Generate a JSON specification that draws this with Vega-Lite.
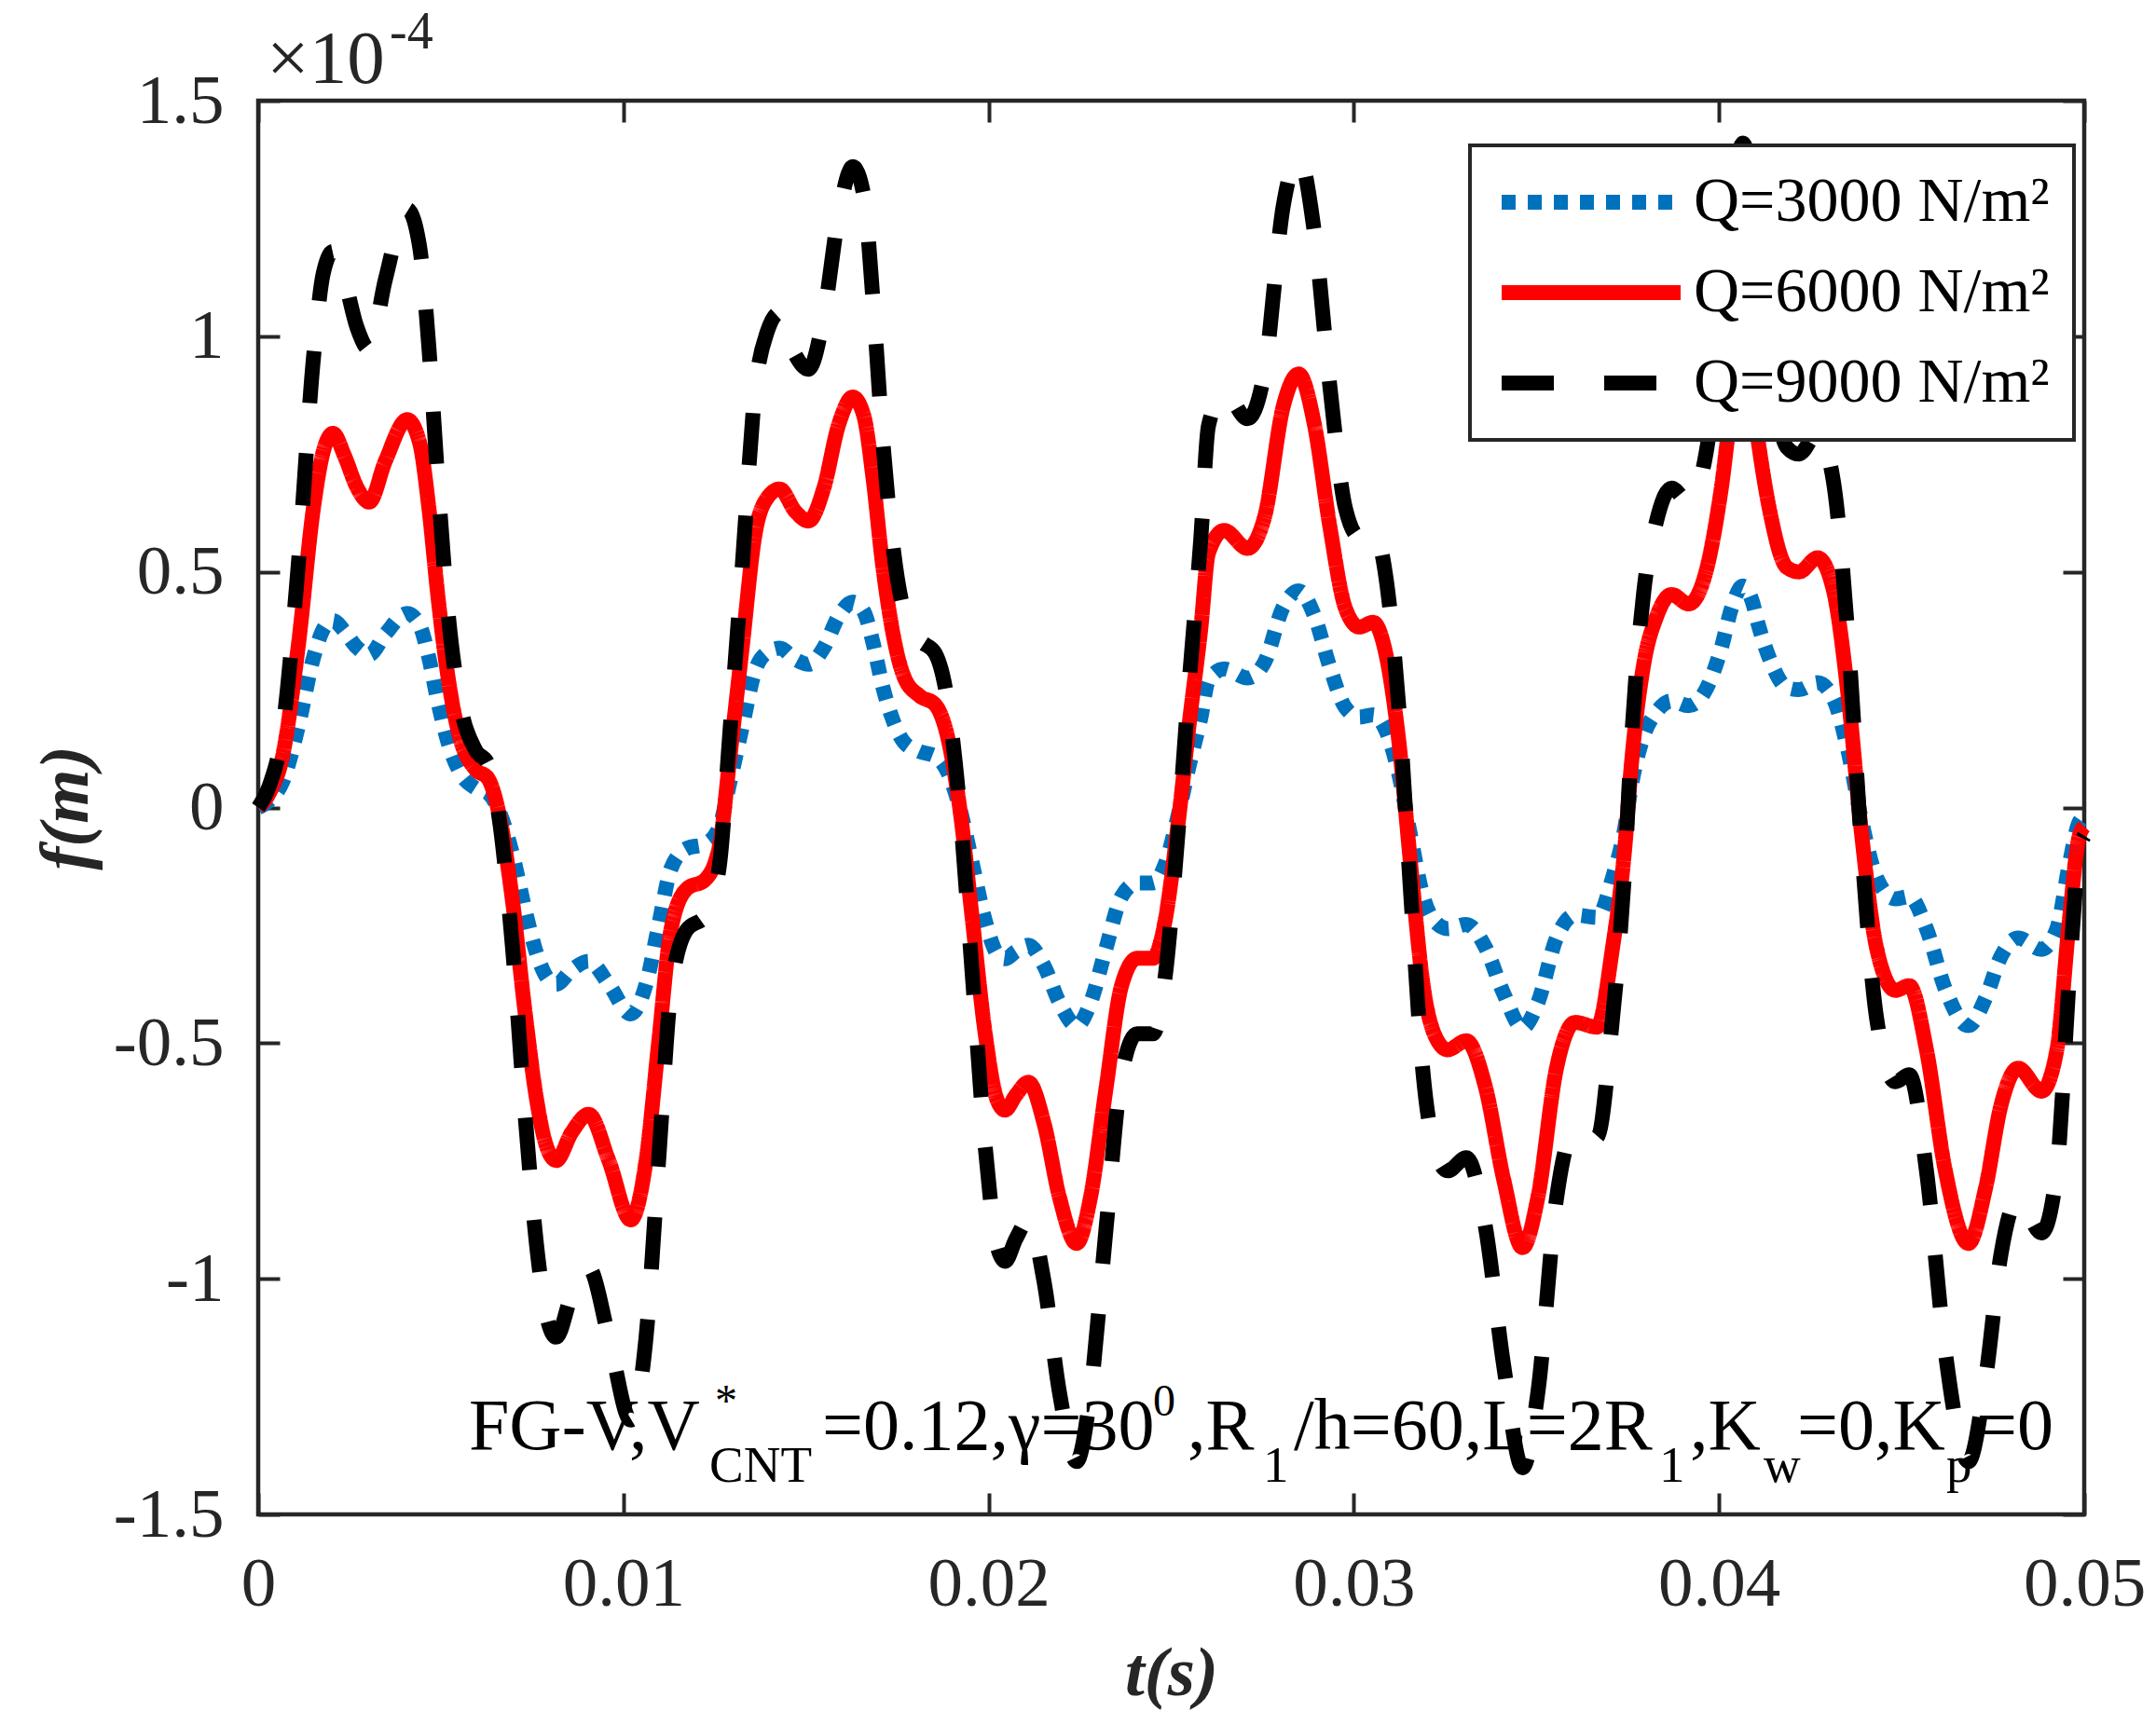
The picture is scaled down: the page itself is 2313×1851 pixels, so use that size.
{
  "$schema": "https://vega.github.io/schema/vega-lite/v6.json",
  "width": 1959,
  "height": 1517,
  "autosize": "none",
  "padding": {"left": 277, "top": 108, "right": 77, "bottom": 226},
  "background": "white",
  "config": {
    "view": {"stroke": "#262626", "strokeWidth": 4.5},
    "axis": {
      "labelFont": "Liberation Serif",
      "labelFontSize": 75,
      "labelColor": "#262626",
      "titleFont": "Liberation Serif",
      "titleFontSize": 75,
      "titleColor": "#262626",
      "titleFontWeight": "bold",
      "titleFontStyle": "italic",
      "tickColor": "#262626",
      "tickWidth": 4,
      "tickSize": -23,
      "grid": false,
      "domain": false,
      "labelFlush": false,
      "labelOverlap": false
    },
    "legend": {"strokeWidth": 4},
    "text": {"font": "Liberation Serif", "fill": "black"}
  },
  "resolve": {"axis": {"x": "independent", "y": "independent"}},
  "layer": [
    {
      "data": {
        "values": [
          {"t": 0.0, "3000": 0.0, "6000": 0.0, "9000": 0.0},
          {"t": 0.0003, "3000": 0.015, "6000": 0.03, "9000": 0.045},
          {"t": 0.00067, "3000": 0.055, "6000": 0.11, "9000": 0.165},
          {"t": 0.0011, "3000": 0.173, "6000": 0.345, "9000": 0.518},
          {"t": 0.00152, "3000": 0.32, "6000": 0.64, "9000": 0.96},
          {"t": 0.00178, "3000": 0.378, "6000": 0.755, "9000": 1.133},
          {"t": 0.00205, "3000": 0.397, "6000": 0.794, "9000": 1.18},
          {"t": 0.00237, "3000": 0.373, "6000": 0.745, "9000": 1.118},
          {"t": 0.0027, "3000": 0.34, "6000": 0.68, "9000": 1.02},
          {"t": 0.00304, "3000": 0.324, "6000": 0.648, "9000": 0.972},
          {"t": 0.00348, "3000": 0.368, "6000": 0.735, "9000": 1.12},
          {"t": 0.00408, "3000": 0.412, "6000": 0.823, "9000": 1.27},
          {"t": 0.00442, "3000": 0.387, "6000": 0.774, "9000": 1.19},
          {"t": 0.00467, "3000": 0.319, "6000": 0.638, "9000": 0.98},
          {"t": 0.00493, "3000": 0.221, "6000": 0.442, "9000": 0.68},
          {"t": 0.00518, "3000": 0.143, "6000": 0.286, "9000": 0.429},
          {"t": 0.00552, "3000": 0.075, "6000": 0.149, "9000": 0.224},
          {"t": 0.00595, "3000": 0.041, "6000": 0.081, "9000": 0.122},
          {"t": 0.00629, "3000": 0.031, "6000": 0.062, "9000": 0.093},
          {"t": 0.00663, "3000": -0.014, "6000": -0.027, "9000": -0.041},
          {"t": 0.00697, "3000": -0.101, "6000": -0.202, "9000": -0.303},
          {"t": 0.00731, "3000": -0.218, "6000": -0.436, "9000": -0.654},
          {"t": 0.00765, "3000": -0.316, "6000": -0.632, "9000": -0.948},
          {"t": 0.0079, "3000": -0.36, "6000": -0.72, "9000": -1.08},
          {"t": 0.00816, "3000": -0.375, "6000": -0.749, "9000": -1.124},
          {"t": 0.00858, "3000": -0.345, "6000": -0.69, "9000": -1.035},
          {"t": 0.00905, "3000": -0.326, "6000": -0.651, "9000": -0.977},
          {"t": 0.0096, "3000": -0.375, "6000": -0.749, "9000": -1.124},
          {"t": 0.0102, "3000": -0.438, "6000": -0.875, "9000": -1.3},
          {"t": 0.01062, "3000": -0.375, "6000": -0.749, "9000": -1.124},
          {"t": 0.01097, "3000": -0.248, "6000": -0.495, "9000": -0.743},
          {"t": 0.0113, "3000": -0.13, "6000": -0.26, "9000": -0.39},
          {"t": 0.01173, "3000": -0.087, "6000": -0.173, "9000": -0.26},
          {"t": 0.01224, "3000": -0.077, "6000": -0.153, "9000": -0.23},
          {"t": 0.01262, "3000": -0.043, "6000": -0.085, "9000": -0.128},
          {"t": 0.01292, "3000": 0.055, "6000": 0.11, "9000": 0.165},
          {"t": 0.01326, "3000": 0.173, "6000": 0.345, "9000": 0.518},
          {"t": 0.0136, "3000": 0.289, "6000": 0.578, "9000": 0.88},
          {"t": 0.01394, "3000": 0.329, "6000": 0.657, "9000": 1.01},
          {"t": 0.01428, "3000": 0.338, "6000": 0.676, "9000": 1.05},
          {"t": 0.01471, "3000": 0.314, "6000": 0.628, "9000": 0.96},
          {"t": 0.01507, "3000": 0.304, "6000": 0.608, "9000": 0.93},
          {"t": 0.01548, "3000": 0.338, "6000": 0.676, "9000": 1.04},
          {"t": 0.0159, "3000": 0.407, "6000": 0.814, "9000": 1.26},
          {"t": 0.01628, "3000": 0.436, "6000": 0.871, "9000": 1.36},
          {"t": 0.01658, "3000": 0.416, "6000": 0.832, "9000": 1.3},
          {"t": 0.01684, "3000": 0.348, "6000": 0.696, "9000": 1.07},
          {"t": 0.01709, "3000": 0.26, "6000": 0.52, "9000": 0.79},
          {"t": 0.01735, "3000": 0.192, "6000": 0.383, "9000": 0.575},
          {"t": 0.01769, "3000": 0.138, "6000": 0.276, "9000": 0.414},
          {"t": 0.01811, "3000": 0.119, "6000": 0.237, "9000": 0.356},
          {"t": 0.01854, "3000": 0.109, "6000": 0.218, "9000": 0.327},
          {"t": 0.01888, "3000": 0.075, "6000": 0.149, "9000": 0.224},
          {"t": 0.01922, "3000": -0.004, "6000": -0.007, "9000": -0.011},
          {"t": 0.01956, "3000": -0.121, "6000": -0.241, "9000": -0.362},
          {"t": 0.0199, "3000": -0.238, "6000": -0.476, "9000": -0.714},
          {"t": 0.02024, "3000": -0.311, "6000": -0.622, "9000": -0.933},
          {"t": 0.02045, "3000": -0.321, "6000": -0.642, "9000": -0.963},
          {"t": 0.02075, "3000": -0.305, "6000": -0.61, "9000": -0.915},
          {"t": 0.02109, "3000": -0.292, "6000": -0.583, "9000": -0.875},
          {"t": 0.02152, "3000": -0.336, "6000": -0.671, "9000": -1.007},
          {"t": 0.02194, "3000": -0.414, "6000": -0.827, "9000": -1.241},
          {"t": 0.02241, "3000": -0.463, "6000": -0.925, "9000": -1.388},
          {"t": 0.02279, "3000": -0.414, "6000": -0.827, "9000": -1.241},
          {"t": 0.02322, "3000": -0.297, "6000": -0.593, "9000": -0.89},
          {"t": 0.02364, "3000": -0.189, "6000": -0.378, "9000": -0.567},
          {"t": 0.02407, "3000": -0.16, "6000": -0.32, "9000": -0.48},
          {"t": 0.0245, "3000": -0.16, "6000": -0.32, "9000": -0.48},
          {"t": 0.02483, "3000": -0.121, "6000": -0.241, "9000": -0.362},
          {"t": 0.02517, "3000": -0.023, "6000": -0.046, "9000": -0.069},
          {"t": 0.02551, "3000": 0.095, "6000": 0.189, "9000": 0.284},
          {"t": 0.02581, "3000": 0.19, "6000": 0.38, "9000": 0.57},
          {"t": 0.02602, "3000": 0.27, "6000": 0.54, "9000": 0.81},
          {"t": 0.02645, "3000": 0.294, "6000": 0.588, "9000": 0.882},
          {"t": 0.02709, "3000": 0.275, "6000": 0.55, "9000": 0.825},
          {"t": 0.02756, "3000": 0.309, "6000": 0.618, "9000": 0.927},
          {"t": 0.02807, "3000": 0.426, "6000": 0.852, "9000": 1.278},
          {"t": 0.02849, "3000": 0.46, "6000": 0.92, "9000": 1.38},
          {"t": 0.02892, "3000": 0.407, "6000": 0.813, "9000": 1.22},
          {"t": 0.02934, "3000": 0.299, "6000": 0.598, "9000": 0.897},
          {"t": 0.02977, "3000": 0.212, "6000": 0.423, "9000": 0.635},
          {"t": 0.03015, "3000": 0.192, "6000": 0.383, "9000": 0.575},
          {"t": 0.03053, "3000": 0.197, "6000": 0.393, "9000": 0.59},
          {"t": 0.03088, "3000": 0.163, "6000": 0.325, "9000": 0.488},
          {"t": 0.03122, "3000": 0.075, "6000": 0.149, "9000": 0.224},
          {"t": 0.03156, "3000": -0.062, "6000": -0.124, "9000": -0.186},
          {"t": 0.0319, "3000": -0.189, "6000": -0.378, "9000": -0.567},
          {"t": 0.0322, "3000": -0.24, "6000": -0.48, "9000": -0.72},
          {"t": 0.03257, "3000": -0.257, "6000": -0.514, "9000": -0.771},
          {"t": 0.03308, "3000": -0.248, "6000": -0.495, "9000": -0.743},
          {"t": 0.0336, "3000": -0.296, "6000": -0.592, "9000": -0.888},
          {"t": 0.0341, "3000": -0.394, "6000": -0.788, "9000": -1.182},
          {"t": 0.03462, "3000": -0.467, "6000": -0.934, "9000": -1.401},
          {"t": 0.03504, "3000": -0.414, "6000": -0.827, "9000": -1.241},
          {"t": 0.03555, "3000": -0.277, "6000": -0.553, "9000": -0.83},
          {"t": 0.03606, "3000": -0.228, "6000": -0.456, "9000": -0.684},
          {"t": 0.03666, "3000": -0.233, "6000": -0.466, "9000": -0.699},
          {"t": 0.03708, "3000": -0.15, "6000": -0.3, "9000": -0.45},
          {"t": 0.03742, "3000": -0.043, "6000": -0.085, "9000": -0.128},
          {"t": 0.0376, "3000": 0.046, "6000": 0.091, "9000": 0.137},
          {"t": 0.03794, "3000": 0.153, "6000": 0.305, "9000": 0.458},
          {"t": 0.03828, "3000": 0.202, "6000": 0.403, "9000": 0.605},
          {"t": 0.0387, "3000": 0.226, "6000": 0.452, "9000": 0.678},
          {"t": 0.03917, "3000": 0.216, "6000": 0.432, "9000": 0.648},
          {"t": 0.03964, "3000": 0.25, "6000": 0.5, "9000": 0.75},
          {"t": 0.04006, "3000": 0.338, "6000": 0.676, "9000": 1.014},
          {"t": 0.04035, "3000": 0.425, "6000": 0.85, "9000": 1.275},
          {"t": 0.04065, "3000": 0.47, "6000": 0.94, "9000": 1.41},
          {"t": 0.0409, "3000": 0.44, "6000": 0.88, "9000": 1.32},
          {"t": 0.04108, "3000": 0.387, "6000": 0.774, "9000": 1.161},
          {"t": 0.04142, "3000": 0.309, "6000": 0.618, "9000": 0.927},
          {"t": 0.04185, "3000": 0.255, "6000": 0.51, "9000": 0.765},
          {"t": 0.04219, "3000": 0.25, "6000": 0.5, "9000": 0.75},
          {"t": 0.0427, "3000": 0.265, "6000": 0.53, "9000": 0.795},
          {"t": 0.04313, "3000": 0.231, "6000": 0.462, "9000": 0.693},
          {"t": 0.04355, "3000": 0.114, "6000": 0.227, "9000": 0.341},
          {"t": 0.04389, "3000": -0.023, "6000": -0.046, "9000": -0.069},
          {"t": 0.04432, "3000": -0.15, "6000": -0.3, "9000": -0.45},
          {"t": 0.04483, "3000": -0.194, "6000": -0.388, "9000": -0.582},
          {"t": 0.04521, "3000": -0.189, "6000": -0.378, "9000": -0.567},
          {"t": 0.04568, "3000": -0.257, "6000": -0.514, "9000": -0.771},
          {"t": 0.04619, "3000": -0.384, "6000": -0.768, "9000": -1.152},
          {"t": 0.04683, "3000": -0.463, "6000": -0.925, "9000": -1.388},
          {"t": 0.0473, "3000": -0.404, "6000": -0.807, "9000": -1.211},
          {"t": 0.04772, "3000": -0.316, "6000": -0.632, "9000": -0.948},
          {"t": 0.04819, "3000": -0.277, "6000": -0.553, "9000": -0.83},
          {"t": 0.04883, "3000": -0.301, "6000": -0.602, "9000": -0.903},
          {"t": 0.04925, "3000": -0.257, "6000": -0.514, "9000": -0.771},
          {"t": 0.04959, "3000": -0.121, "6000": -0.241, "9000": -0.362},
          {"t": 0.04985, "3000": -0.033, "6000": -0.065, "9000": -0.098},
          {"t": 0.05, "3000": -0.02, "6000": -0.04, "9000": -0.06}
        ]
      },
      "transform": [{"fold": ["3000", "6000", "9000"], "as": ["Q", "f"]}],
      "mark": {"type": "line", "strokeWidth": 16, "strokeCap": "butt", "interpolate": "monotone"},
      "encoding": {
        "x": {
          "field": "t",
          "type": "quantitative",
          "scale": {"domain": [0, 0.05], "nice": false, "zero": false},
          "axis": {
            "orient": "bottom",
            "values": [0, 0.01, 0.02, 0.03, 0.04, 0.05],
            "format": "~g",
            "title": "t(s)",
            "labelPadding": 61,
            "titlePadding": 22
          }
        },
        "y": {
          "field": "f",
          "type": "quantitative",
          "scale": {"domain": [-1.5, 1.5], "nice": false, "zero": false},
          "axis": {
            "orient": "left",
            "values": [-1.5, -1, -0.5, 0, 0.5, 1, 1.5],
            "labelExpr": "datum.value < 0 ? '-' + format(-datum.value, '~g') : format(datum.value, '~g')",
            "title": "f(m)",
            "labelPadding": 60,
            "titlePadding": 12
          }
        },
        "color": {
          "field": "Q",
          "type": "nominal",
          "scale": {"domain": ["3000", "6000", "9000"], "range": ["#0072BD", "#FF0000", "#000000"]},
          "legend": {
            "orient": "none",
            "legendX": 1300,
            "legendY": 48,
            "title": null,
            "symbolType": "stroke",
            "symbolSize": 36864,
            "symbolStrokeWidth": 16,
            "clipHeight": 70,
            "rowPadding": 27,
            "padding": 26,
            "labelOffset": 6,
            "labelFont": "Liberation Serif",
            "labelFontSize": 68,
            "labelColor": "black",
            "labelLimit": 0,
            "labelExpr": "'Q=' + datum.label + ' N/m²'",
            "strokeColor": "#262626",
            "fillColor": "white"
          }
        },
        "strokeDash": {
          "field": "Q",
          "type": "nominal",
          "scale": {"domain": ["3000", "6000", "9000"], "range": [[15, 13], [1, 0], [56, 54]]},
          "legend": {
            "orient": "none",
            "legendX": 1300,
            "legendY": 48,
            "title": null,
            "symbolType": "stroke",
            "symbolSize": 36864,
            "symbolStrokeWidth": 16,
            "clipHeight": 70,
            "rowPadding": 27,
            "padding": 26,
            "labelOffset": 6,
            "labelFont": "Liberation Serif",
            "labelFontSize": 68,
            "labelColor": "black",
            "labelLimit": 0,
            "labelExpr": "'Q=' + datum.label + ' N/m²'",
            "strokeColor": "#262626",
            "fillColor": "white"
          }
        }
      }
    },
    {
      "data": {"values": [{}]},
      "mark": {"type": "text", "text": "×10", "align": "left", "baseline": "alphabetic", "fontSize": 81, "dx": 9, "dy": -19, "fill": "#262626"},
      "encoding": {
        "x": {
          "datum": 0,
          "type": "quantitative",
          "scale": {"domain": [0, 0.05], "nice": false, "zero": false},
          "axis": {"orient": "top", "values": [0, 0.01, 0.02, 0.03, 0.04, 0.05], "labels": false, "title": null}
        },
        "y": {
          "datum": 1.5,
          "type": "quantitative",
          "scale": {"domain": [-1.5, 1.5], "nice": false, "zero": false},
          "axis": {"orient": "right", "values": [-1.5, -1, -0.5, 0, 0.5, 1, 1.5], "labels": false, "title": null}
        }
      }
    },
    {
      "data": {"values": [{}]},
      "mark": {"type": "text", "text": "-4", "align": "left", "baseline": "alphabetic", "fontSize": 56, "dx": 141, "dy": -56, "fill": "#262626"},
      "encoding": {
        "x": {"datum": 0, "type": "quantitative", "scale": {"domain": [0, 0.05], "nice": false, "zero": false}, "axis": null},
        "y": {"datum": 1.5, "type": "quantitative", "scale": {"domain": [-1.5, 1.5], "nice": false, "zero": false}, "axis": null}
      }
    },
    {
      "data": {
        "values": [
          {"t": 0.005768, "txt": "FG-V,V"},
          {"t": 0.015442, "txt": "=0.12,γ=30"},
          {"t": 0.025447, "txt": ",R"},
          {"t": 0.028356, "txt": "/h=60,L=2R"},
          {"t": 0.039203, "txt": ",K"},
          {"t": 0.042139, "txt": "=0,K"},
          {"t": 0.047039, "txt": "=0"}
        ]
      },
      "mark": {"type": "text", "align": "left", "baseline": "alphabetic", "fontSize": 78},
      "encoding": {
        "x": {"field": "t", "type": "quantitative", "scale": {"domain": [0, 0.05], "nice": false, "zero": false}, "axis": null},
        "y": {"datum": -1.3615, "type": "quantitative", "scale": {"domain": [-1.5, 1.5], "nice": false, "zero": false}, "axis": null},
        "text": {"field": "txt"}
      }
    },
    {
      "data": {
        "values": [
          {"t": 0.012353, "txt": "CNT"},
          {"t": 0.027514, "txt": "1"},
          {"t": 0.038361, "txt": "1"},
          {"t": 0.04122, "txt": "w"},
          {"t": 0.046222, "txt": "p"}
        ]
      },
      "mark": {"type": "text", "align": "left", "baseline": "alphabetic", "fontSize": 55},
      "encoding": {
        "x": {"field": "t", "type": "quantitative", "scale": {"domain": [0, 0.05], "nice": false, "zero": false}, "axis": null},
        "y": {"datum": -1.4307, "type": "quantitative", "scale": {"domain": [-1.5, 1.5], "nice": false, "zero": false}, "axis": null},
        "text": {"field": "txt"}
      }
    },
    {
      "data": {
        "values": [
          {"t": 0.012506, "txt": "*"},
          {"t": 0.024502, "txt": "0"}
        ]
      },
      "mark": {"type": "text", "align": "left", "baseline": "alphabetic", "fontSize": 48},
      "encoding": {
        "x": {"field": "t", "type": "quantitative", "scale": {"domain": [0, 0.05], "nice": false, "zero": false}, "axis": null},
        "y": {"datum": -1.2902, "type": "quantitative", "scale": {"domain": [-1.5, 1.5], "nice": false, "zero": false}, "axis": null},
        "text": {"field": "txt"}
      }
    }
  ]
}
